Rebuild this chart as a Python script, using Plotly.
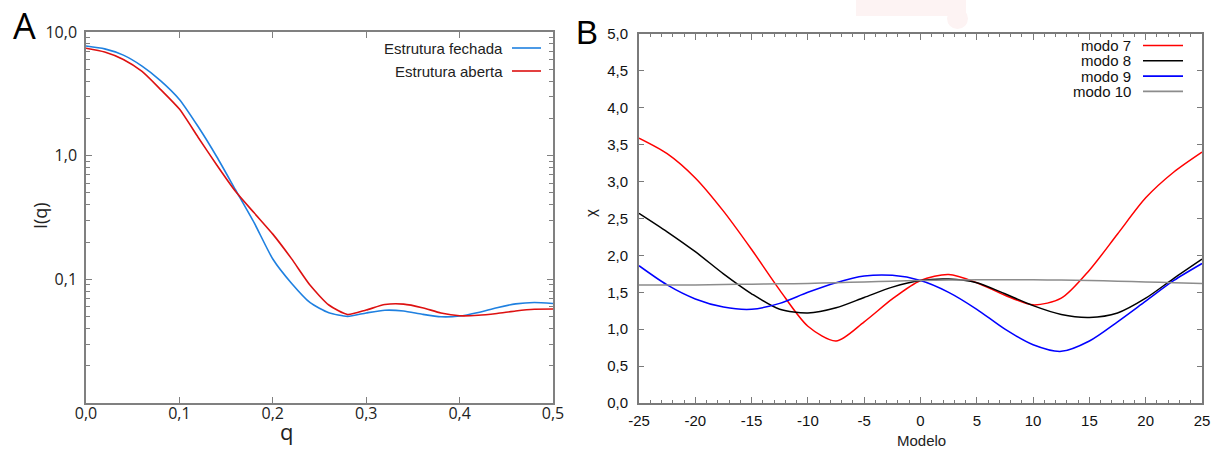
import plotly.graph_objects as go

# ---------------- Data ----------------
# Panel A: SAXS-like intensity curves
q = [0.00, 0.02, 0.04, 0.06, 0.08, 0.10, 0.12, 0.14, 0.16, 0.18, 0.20, 0.22, 0.24,
     0.26, 0.28, 0.30, 0.32, 0.34, 0.36, 0.38, 0.40, 0.42, 0.44, 0.46, 0.48, 0.50]
I_fechada = [7.7, 7.3, 6.5, 5.3, 4.03, 2.85, 1.72, 0.98, 0.53, 0.287, 0.146, 0.093, 0.0647,
             0.0537, 0.0502, 0.0535, 0.0563, 0.0555, 0.0522, 0.0498, 0.0505, 0.0540,
             0.0590, 0.0633, 0.0650, 0.0637]
I_aberta = [7.4, 6.9, 6.0, 4.8, 3.42, 2.38, 1.41, 0.84, 0.515, 0.345, 0.232, 0.147, 0.0895,
            0.062, 0.052, 0.0565, 0.0625, 0.0630, 0.0590, 0.0535, 0.0508, 0.0512,
            0.0530, 0.0555, 0.0573, 0.0575]
nomes_A = ["Estrutura fechada", "Estrutura aberta"]

# Panel B: chi vs model
modelo = [-25, -22.5, -20, -17.5, -15, -12.5, -10, -7.5, -5, -2.5, 0,
          2.5, 5, 7.5, 10, 12.5, 15, 17.5, 20, 22.5, 25]
modo7 = [3.59, 3.38, 3.05, 2.60, 2.08, 1.53, 1.04, 0.84, 1.10, 1.41, 1.66,
         1.74, 1.63, 1.46, 1.33, 1.42, 1.80, 2.29, 2.78, 3.13, 3.40]
modo8 = [2.57, 2.32, 2.05, 1.75, 1.48, 1.27, 1.22, 1.29, 1.43, 1.57, 1.66,
         1.68, 1.63, 1.48, 1.32, 1.20, 1.16, 1.22, 1.42, 1.69, 1.95]
modo9 = [1.86, 1.60, 1.41, 1.30, 1.27, 1.35, 1.50, 1.63, 1.72, 1.73, 1.66,
         1.50, 1.27, 1.00, 0.79, 0.70, 0.84, 1.10, 1.38, 1.66, 1.89]
modo10 = [1.60, 1.60, 1.60, 1.605, 1.61, 1.615, 1.62, 1.63, 1.64, 1.65, 1.66,
          1.665, 1.67, 1.67, 1.67, 1.665, 1.66, 1.65, 1.64, 1.63, 1.62]
nomes_B = ["modo 7", "modo 8", "modo 9", "modo 10"]

# Tick labels
qx_vals = [0.0, 0.1, 0.2, 0.3, 0.4, 0.5]
qx_text = ["0,0", "0,1", "0,2", "0,3", "0,4", "0,5"]
Iy_vals = [0.1, 1, 10]
Iy_text = ["0,1", "1,0", "10,0"]
mx_vals = [-25, -20, -15, -10, -5, 0, 5, 10, 15, 20, 25]
mx_text = ["-25", "-20", "-15", "-10", "-5", "0", "5", "10", "15", "20", "25"]
chi_vals = [0, 0.5, 1, 1.5, 2, 2.5, 3, 3.5, 4, 4.5, 5]
chi_text = ["0,0", "0,5", "1,0", "1,5", "2,0", "2,5", "3,0", "3,5", "4,0", "4,5", "5,0"]

# ---------------- Figure ----------------
W, H = 1223, 450
def px(x):
    return x / W
def py(y):
    return 1 - y / H

colA = ["#1f80e0", "#dd1111"]
colB = ["#ff0000", "#000000", "#0000ff", "#8c8c8c"]

fig = go.Figure()
for ys, c in zip([I_fechada, I_aberta], colA):
    fig.add_trace(go.Scatter(x=q, y=ys, mode="lines", xaxis="x", yaxis="y",
                             line=dict(color=c, width=1.6, shape="spline", smoothing=0.6),
                             showlegend=False, hoverinfo="skip"))
for ys, c in zip([modo7, modo8, modo9, modo10], colB):
    fig.add_trace(go.Scatter(x=modelo, y=ys, mode="lines", xaxis="x2", yaxis="y2",
                             line=dict(color=c, width=1.5, shape="spline", smoothing=0.8),
                             showlegend=False, hoverinfo="skip"))

minor_log = [v * 10 ** e for e in (-2, -1, 0) for v in range(2, 10)]

axA = dict(showline=True, linecolor="#808080", linewidth=1.5, mirror="ticks",
           ticks="inside", tickcolor="#808080", showgrid=False, zeroline=False,
           automargin=False)
axB = dict(showline=True, linecolor="#7a7a7a", linewidth=1.8, mirror="ticks",
           ticks="inside", tickcolor="#7a7a7a", showgrid=False, zeroline=False,
           automargin=False)

fontA = dict(family="Open Sans, Liberation Sans, sans-serif", size=16, color="#222")
fontB = dict(family="Liberation Sans, Arial, sans-serif", size=15, color="#111")

fig.update_layout(
    template="none",
    width=W, height=H, autosize=False,
    margin=dict(l=0, r=0, t=0, b=0, pad=0),
    paper_bgcolor="white", plot_bgcolor="white",
    xaxis=dict(domain=[px(86), px(553)], anchor="y", range=[0, 0.5],
               tickmode="array", tickvals=qx_vals, ticktext=qx_text, ticklen=6,
               tickfont=fontA, ticklabelstandoff=-5, **axA),
    yaxis=dict(domain=[py(403), py(32)], anchor="x", type="log", range=[-2, 1],
               tickmode="array", tickvals=Iy_vals, ticktext=Iy_text, ticklen=6,
               minor=dict(tickmode="array", tickvals=minor_log, ticks="inside",
                          ticklen=4, tickcolor="#808080"),
               tickfont=fontA, ticklabelstandoff=4, **axA),
    xaxis2=dict(domain=[px(639), px(1202)], anchor="y2", range=[-25, 25],
                tickmode="array", tickvals=mx_vals, ticktext=mx_text, ticklen=6,
                minor=dict(dtick=1, tick0=0, ticks="inside", ticklen=3, tickcolor="#7a7a7a"),
                tickfont=fontB, ticklabelstandoff=3, **axB),
    yaxis2=dict(domain=[py(403), py(34)], anchor="x2", range=[0, 5],
                tickmode="array", tickvals=chi_vals, ticktext=chi_text, ticklen=5,
                tickfont=fontB, ticklabelstandoff=6, **axB),
)

def note(text, x, y, size, family, angle=0, xanchor="center", color="#222"):
    return dict(text=text, x=px(x), y=py(y), xref="paper", yref="paper",
                xanchor=xanchor, yanchor="middle", showarrow=False, textangle=angle,
                font=dict(family=family, size=size, color=color))

OS = "Open Sans, sans-serif"
LS = "Liberation Sans, Arial, sans-serif"

ann = []
# panel letters
ann.append(note("A", 24, 25, 36, OS, color="#000"))
ann.append(note("B", 587, 32, 33, LS, color="#000"))
# axis titles
ann.append(note("q", 286, 431, 22, OS))
ann.append(note("I(q)", 40, 216, 18, OS, angle=-90))
ann.append(note("Modelo", 921, 440, 15, LS))
ann.append(note("χ", 590, 213, 15, LS, angle=-90))

shapes = []
# legend A (manual, symbol on the right)
for i, (nm, c) in enumerate(zip(nomes_A, colA)):
    yc = 48 + 23 * i
    ann.append(note(nm, 505, yc, 15, LS, xanchor="right"))
    shapes.append(dict(type="line", xref="paper", yref="paper", x0=px(512), x1=px(541),
                       y0=py(yc), y1=py(yc), line=dict(color=c, width=1.6)))
# legend B
for i, (nm, c) in enumerate(zip(nomes_B, colB)):
    yc = 45.5 + 15.3 * i
    ann.append(note(nm, 1133, yc, 15, LS, xanchor="right", color="#111"))
    shapes.append(dict(type="line", xref="paper", yref="paper", x0=px(1143), x1=px(1183),
                       y0=py(yc), y1=py(yc), line=dict(color=c, width=1.6)))
# faint pink artifact at top
shapes.append(dict(type="rect", xref="paper", yref="paper", x0=px(856), x1=px(966),
                   y0=py(16), y1=py(0), fillcolor="#fdf3f3", line=dict(width=0), layer="below"))
shapes.append(dict(type="circle", xref="paper", yref="paper", x0=px(947), x1=px(968),
                   y0=py(29), y1=py(8), fillcolor="#fdf3f3", line=dict(width=0), layer="below"))

fig.update_layout(annotations=ann, shapes=shapes)

fig.write_html("out.html", post_script="document.body.style.margin='0';",
               config={"displayModeBar": False})
